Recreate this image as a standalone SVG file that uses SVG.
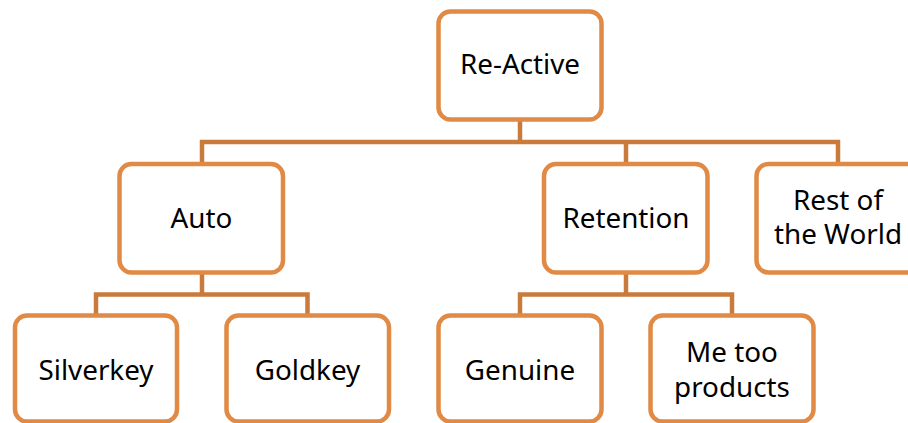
<svg xmlns="http://www.w3.org/2000/svg" width="908" height="423" viewBox="0 0 908 423">
  <style>
    .box { fill: #ffffff; stroke: #E08A45; stroke-width: 4.5; }
    .conn { fill: none; stroke: #C97B3C; stroke-width: 4.5; stroke-linejoin: miter; }
    .lbl { font-family: "Noto Sans", "Open Sans", sans-serif; font-size: 27.8px; fill: #000000; text-anchor: middle; }
  </style>
  <rect width="908" height="423" fill="#ffffff"/>

  <!-- connectors -->
  <g id="connectors">
    <path class="conn" d="M520,119.5 V142 M202,164 V142 H838 V164 M626,142 V164"/>
    <path class="conn" d="M202,272.5 V294.5 M96,315.5 V294.5 H307.5 V315.5"/>
    <path class="conn" d="M626,272.5 V294.5 M520,315.5 V294.5 H732 V315.5"/>
  </g>

  <g id="node-reactive">
    <rect class="box" x="438.5" y="11.5" width="163" height="108" rx="12"/>
    <text class="lbl" x="520" y="74">Re-Active</text>
  </g>

  <g id="node-auto">
    <rect class="box" x="119.5" y="164" width="163.5" height="108.5" rx="12"/>
    <text class="lbl" x="201.5" y="227.5">Auto</text>
  </g>

  <g id="node-retention">
    <rect class="box" x="544" y="164" width="163.5" height="108.5" rx="12"/>
    <text class="lbl" x="626" y="227.5">Retention</text>
  </g>

  <g id="node-rest">
    <rect class="box" x="756.5" y="164" width="163.5" height="108.5" rx="12"/>
    <text class="lbl" x="838" y="209.5">Rest of</text>
    <text class="lbl" x="838" y="244">the World</text>
  </g>

  <g id="node-silverkey">
    <rect class="box" x="15" y="315.5" width="162" height="106" rx="12"/>
    <text class="lbl" x="96" y="380">Silverkey</text>
  </g>

  <g id="node-goldkey">
    <rect class="box" x="226.5" y="315.5" width="162.5" height="106" rx="12"/>
    <text class="lbl" x="307.5" y="380">Goldkey</text>
  </g>

  <g id="node-genuine">
    <rect class="box" x="438.5" y="315.5" width="163" height="106" rx="12"/>
    <text class="lbl" x="520" y="379.5">Genuine</text>
  </g>

  <g id="node-metoo">
    <rect class="box" x="650.5" y="315.5" width="163" height="106" rx="12"/>
    <text class="lbl" x="732" y="361.5">Me too</text>
    <text class="lbl" x="732" y="396.5">products</text>
  </g>
</svg>
